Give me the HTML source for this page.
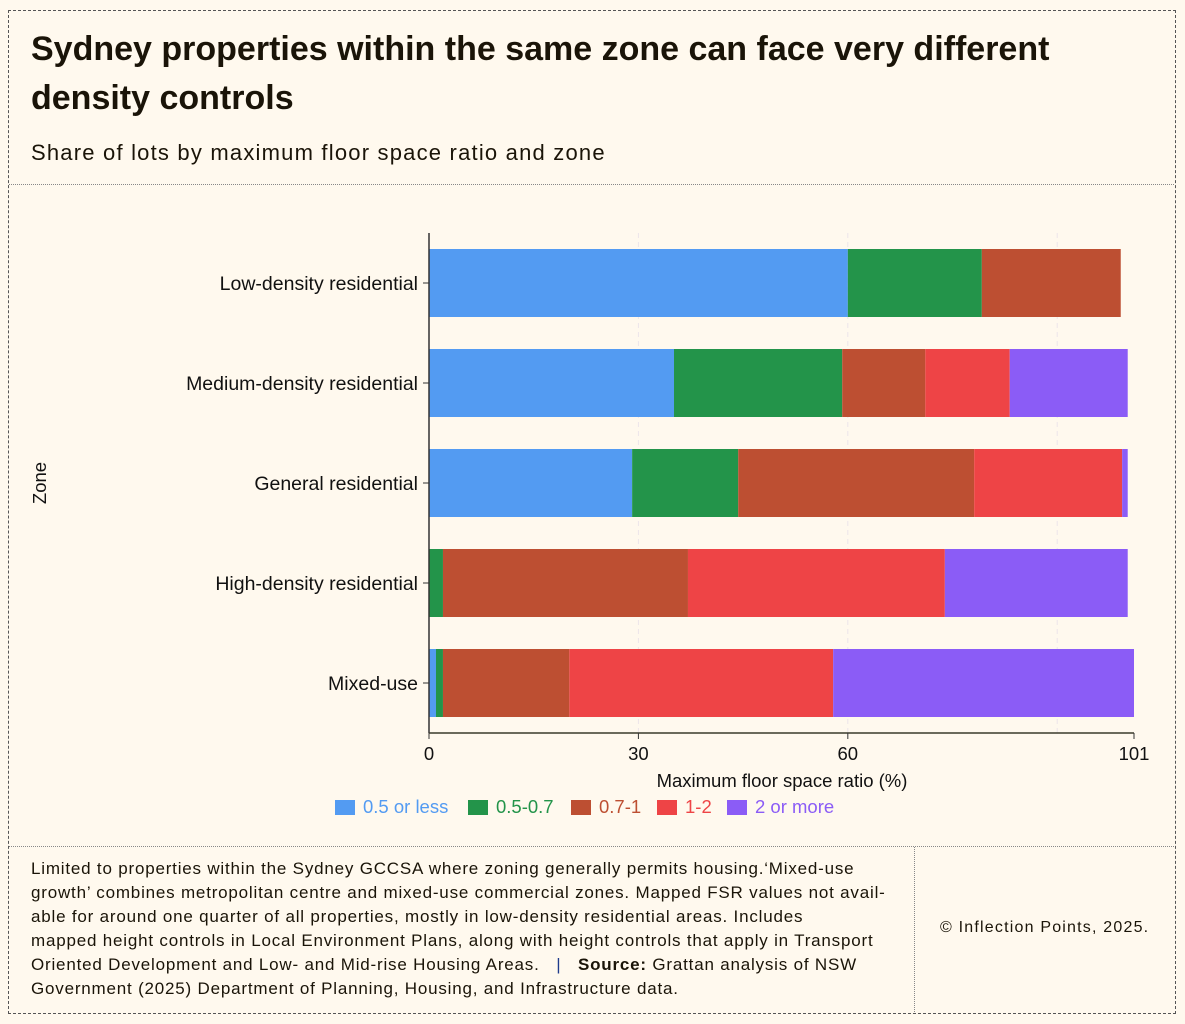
<!DOCTYPE html>
<html><head><meta charset="utf-8"><style>
body{margin:0;background:#fff9ee;width:1185px;height:1024px;overflow:hidden;font-family:"Liberation Sans",sans-serif;color:#1a1408}
#frame{position:absolute;left:8px;top:10px;width:1166px;height:1002px;border:1px dashed #555}
#title{position:absolute;left:31px;top:25px;font-size:34px;font-weight:bold;letter-spacing:0px;line-height:49px;width:1060px;margin:0}
#sub{position:absolute;left:31px;top:140px;font-size:22px;letter-spacing:1.2px}
.hsep{position:absolute;left:9px;width:1165px;border-top:1px dotted #888}
#note{position:absolute;left:31px;top:857px;width:878px;font-size:17px;line-height:24px;letter-spacing:0.8px;white-space:nowrap}
#copy{position:absolute;left:940px;top:919px;font-size:16px;letter-spacing:1.2px}
#vsep{position:absolute;left:914px;top:847px;height:165px;border-left:1px dotted #888}
svg{position:absolute;left:0;top:0}
</style></head><body>
<div id="frame"></div>
<h1 id="title">Sydney properties within the same zone can face very different density controls</h1>
<div id="sub">Share of lots by maximum floor space ratio and zone</div>
<div class="hsep" style="top:184px"></div>
<div class="hsep" style="top:846px"></div>
<div id="vsep"></div>
<div id="note">Limited to properties within the Sydney GCCSA where zoning generally permits housing.‘Mixed-use<br>growth’ combines metropolitan centre and mixed-use commercial zones. Mapped FSR values not avail-<br>able for around one quarter of all properties, mostly in low-density residential areas. Includes<br>mapped height controls in Local Environment Plans, along with height controls that apply in Transport<br>Oriented Development and Low- and Mid-rise Housing Areas. &nbsp; <span style="color:#1f3b8c">|</span> &nbsp; <b>Source:</b> Grattan analysis of NSW<br>Government (2025) Department of Planning, Housing, and Infrastructure data.</div>
<div id="copy">© Inflection Points, 2025.</div>
<svg id="chart" width="1185" height="1024"></svg>
<script>
const zones=["Low-density residential","Medium-density residential","General residential","High-density residential","Mixed-use"];
const seriesNames=["0.5 or less","0.5-0.7","0.7-1","1-2","2 or more"];
const colors=["#539bf2","#23944a","#bd4f32","#ee4446","#8b5cf6"];
const s05=[60.0,35.1,29.1,0,1.0];
const s057=[19.2,24.1,15.2,2.0,1.0];
const s071=[19.9,11.9,33.8,35.1,18.1];
const s12=[0,12.1,21.2,36.8,37.8];
const s2=[0,16.9,0.8,26.2,43.1];
const ticks=[0,30,60,101];
const series=[s05,s057,s071,s12,s2];
(function(){
const NS="http://www.w3.org/2000/svg",svg=document.getElementById('chart');
const x0=429,x1=1134,pTop=233,pBottom=733,xMax=101;
const x=v=>x0+(v/xMax)*(x1-x0);
const band=(pBottom-pTop)/zones.length,bh=68;
const y=i=>pTop+band*i+band/2;
function mk(t,a,p){const e=document.createElementNS(NS,t);for(const k in a)e.setAttribute(k,a[k]);(p||svg).appendChild(e);return e;}
[30,60,90].forEach(v=>{const g=mk('line',{x1:x(v),x2:x(v),y1:pTop,y2:pBottom,stroke:'#ece5ea','stroke-dasharray':'5,4'});

});
zones.forEach((z,i)=>{let acc=0;series.forEach((s,k)=>{if(s[i]>0){const r=mk('rect',{x:x(acc),y:y(i)-bh/2,width:x(acc+s[i])-x(acc),height:bh,fill:colors[k]});

}acc+=s[i];});
const t=mk('text',{x:x0-11,y:y(i)+7,'text-anchor':'end','font-size':'19.5',fill:'#111','letter-spacing':'0'});t.textContent=z;


mk('line',{x1:x0-6,x2:x0,y1:y(i),y2:y(i),stroke:'#333'});});
mk('line',{x1:x0,x2:x0,y1:pTop,y2:pBottom,stroke:'#333','stroke-width':1.5});
mk('line',{x1:x0,x2:x1,y1:pBottom,y2:pBottom,stroke:'#3a3a2a','stroke-width':1.5});
ticks.forEach(v=>{mk('line',{x1:x(v),x2:x(v),y1:pBottom,y2:pBottom+6,stroke:'#333'});
const t=mk('text',{x:x(v),y:pBottom+27,'text-anchor':'middle','font-size':'18.5',fill:'#111'});t.textContent=v;

});
const xt=mk('text',{x:782,y:787,'text-anchor':'middle','font-size':'18.5',fill:'#111'});xt.textContent='Maximum floor space ratio (%)';


const yt=mk('text',{x:46,y:483,'text-anchor':'middle','font-size':'18.5',fill:'#111',transform:'rotate(-90 46 483)'});yt.textContent='Zone';


const lx=[335,468,571,657,727];
seriesNames.forEach((n,k)=>{const g=mk('g',{});


mk('rect',{x:lx[k],y:800,width:20,height:15,fill:colors[k]},g);
const t=mk('text',{x:lx[k]+28,y:813,'font-size':'18.5',fill:colors[k]},g);t.textContent=n;});
})();
</script>
</body></html>
